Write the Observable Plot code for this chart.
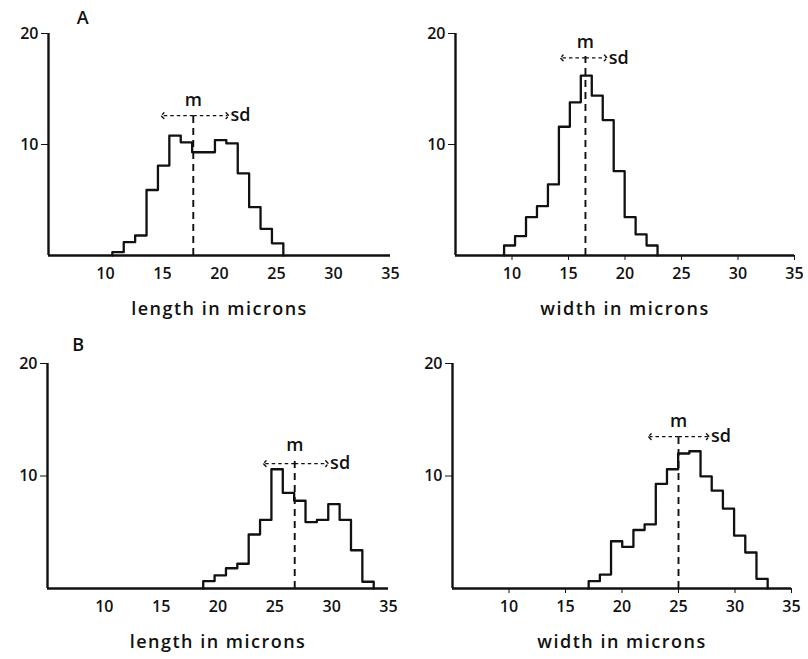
<!DOCTYPE html>
<html>
<head>
<meta charset="utf-8">
<script src="https://cdn.jsdelivr.net/npm/d3@7"></script>
<script src="https://cdn.jsdelivr.net/npm/@observablehq/plot@0.6"></script>
<style>
  body { margin: 0; background: #fff; }
  #grid { display: grid; grid-template-columns: 404px 404px; grid-template-rows: 330px 329px; width: 808px; height: 659px; }
  #grid svg { display: block; }
</style>
</head>
<body>
<div id="grid"></div>
<script>
// ---- data ----
const ticksX = [10, 15, 20, 25, 30, 35];
const ticksY = [10, 20];
const panelLetters = ["A", "B"];
const axisLabels = ["length in microns", "width in microns"];

// histogram counts (bins of ~1 micron)
const lengthA = [0.3, 1.2, 1.8, 5.9, 8.1, 10.8, 10.2, 9.3, 9.3, 10.4, 10.1, 7.4, 4.35, 2.4, 1.1];
const widthA  = [0.9, 1.74, 3.45, 4.44, 6.4, 11.6, 13.8, 16.2, 14.4, 12.2, 7.6, 3.45, 1.9, 0.9];
const lengthB = [0.65, 1.16, 1.8, 2.2, 4.8, 6.1, 10.6, 8.5, 7.8, 5.9, 6.1, 7.5, 6.1, 3.4, 0.6];
const widthB  = [0.65, 1.24, 4.2, 3.7, 5.2, 5.7, 9.3, 10.6, 12.0, 12.2, 9.96, 8.7, 7.1, 4.7, 3.2, 0.86];

// bin start and bin width per panel (A-length, A-width, B-length, B-width)
const binStarts = [10.6, 9.3, 18.7, 17.05];
const binWidths = [1.0, 0.97, 1.0, 0.99];

// mean and the sd arrow extent per panel
const means   = [17.7, 16.5, 26.75, 25.0];
const sdLeft  = [15.0, 14.4, 24.1, 22.45];
const sdRight = [20.7, 18.3, 29.6, 27.6];
const sdLevel = [12.6, 17.8, 11.1, 13.5];
const mLevel  = [14.0, 19.2, 12.7, 14.9];

const allCounts = [lengthA, widthA, lengthB, widthB];

// ---- layout per panel ----
const layout = [
  {height: 330, marginLeft: 48, marginRight: 14, marginTop: 33, marginBottom: 75, xTick: 0},
  {height: 330, marginLeft: 51, marginRight: 14, marginTop: 33, marginBottom: 75, xTick: 5},
  {height: 329, marginLeft: 47, marginRight: 16, marginTop: 33, marginBottom: 71, xTick: 0},
  {height: 329, marginLeft: 48, marginRight: 17, marginTop: 33, marginBottom: 71, xTick: 5}
];
const letterPos = [{x: 8.0, y: 21.4}, null, {x: 7.7, y: 21.6}, null];

const ink = "#111";
const font = "'Open Sans', 'DejaVu Sans', sans-serif";

function panel(i) {
  const counts = allCounts[i];
  const start = binStarts[i], w = binWidths[i];
  const pts = [{x: start, y: 0}];
  counts.forEach((c, k) => pts.push({x: start + k * w, y: c}));
  pts.push({x: start + counts.length * w, y: 0});
  const L = layout[i];
  const arrows = [{from: means[i], to: sdLeft[i]}, {from: means[i], to: sdRight[i]}];
  const marks = [
    Plot.ruleY([0], {x1: 5, x2: 35, stroke: ink, strokeWidth: 2.4}),
    Plot.ruleX([5], {y1: 0, y2: 20, stroke: ink, strokeWidth: 2.4}),
    Plot.line(pts, {x: "x", y: "y", curve: "step-after", stroke: ink, strokeWidth: 2.3}),
    Plot.ruleX([i], {x: d => means[d], y1: 0, y2: d => sdLevel[d] + 0.25, stroke: ink, strokeWidth: 1.9, strokeDasharray: "7,5"}),
    Plot.link(arrows, {x1: "from", x2: "to", y1: () => sdLevel[i], y2: () => sdLevel[i],
      stroke: ink, strokeWidth: 1.4, strokeDasharray: "3.5,3", markerEnd: "arrow"}),
    Plot.text([i], {x: d => means[d], y: d => mLevel[d], text: () => "m", fontSize: 18, fontWeight: 600, fill: ink}),
    Plot.text([i], {x: d => sdRight[d], y: d => sdLevel[d], text: () => "sd", textAnchor: "start", dx: 3, fontSize: 18, fontWeight: 600, fill: ink}),
    Plot.text([axisLabels[i % 2]], {frameAnchor: "bottom", dy: 59, fontSize: 18, fontWeight: 600, fill: ink})
  ];
  if (letterPos[i]) {
    marks.push(Plot.text([panelLetters[i >> 1]], {x: letterPos[i].x, y: letterPos[i].y, fontSize: 18, fontWeight: 600, fill: ink}));
  }
  return Plot.plot({
    width: 404,
    height: L.height,
    marginLeft: L.marginLeft,
    marginRight: L.marginRight,
    marginTop: L.marginTop,
    marginBottom: L.marginBottom,
    style: {fontFamily: font, fontSize: "16px", fontWeight: 600, color: ink, background: "#fff"},
    x: {domain: [5, 35], ticks: ticksX, tickSize: L.xTick, tickPadding: 12 - L.xTick, label: null},
    y: {domain: [0, 20], ticks: ticksY, tickSize: 7, tickPadding: 3, label: null},
    marks
  });
}

const grid = document.getElementById("grid");
for (let i = 0; i < 4; i++) {
  const svg = panel(i);
  d3.select(svg).selectAll("text").filter(function () {
    return axisLabels.includes(this.textContent);
  }).style("letter-spacing", "1.5px");
  grid.appendChild(svg);
}
</script>
</body>
</html>
